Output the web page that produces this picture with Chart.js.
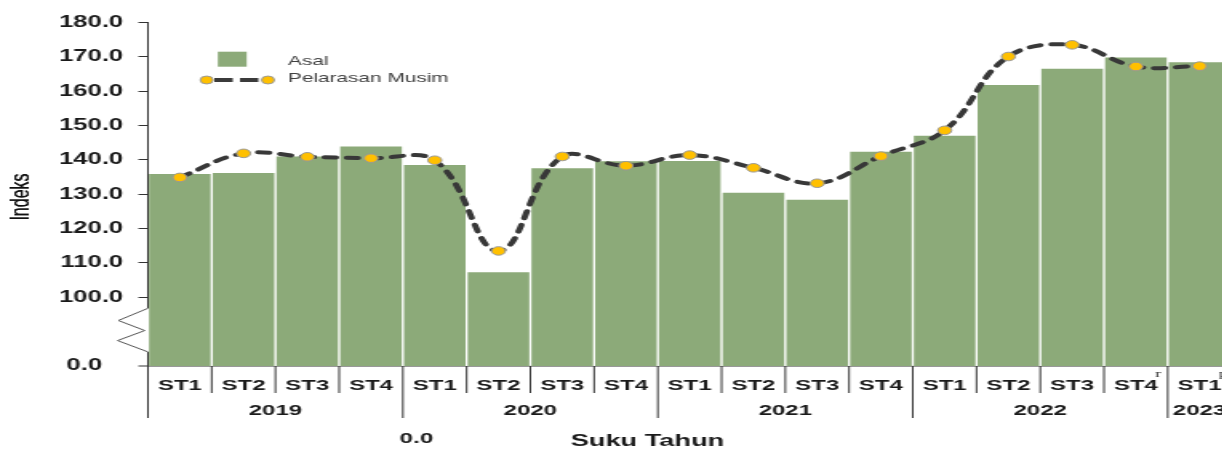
<!DOCTYPE html>
<html>
<head>
<meta charset="utf-8">
<script src="https://cdn.jsdelivr.net/npm/chart.js@4.4.0/dist/chart.umd.min.js"></script>
<style>
html,body{margin:0;padding:0;background:#fff;overflow:hidden;width:1222px;height:450px;}
#wrap{position:absolute;left:0;top:0;width:775px;height:450px;transform:scaleX(1.6);transform-origin:0 0;}
canvas{display:block;}
</style>
</head>
<body>
<div id="wrap"><canvas id="c" width="775" height="450"></canvas></div>
<script>
const quarters = ['ST1','ST2','ST3','ST4','ST1','ST2','ST3','ST4','ST1','ST2','ST3','ST4','ST1','ST2','ST3','ST4','ST1'];
const years = ['2019','2020','2021','2022','2023'];
const yearStarts = [0,4,8,12,16];
const asal = [136.1,136.4,141.2,144.1,138.7,107.5,137.8,139.8,139.9,130.6,128.6,142.6,147.2,162.0,166.7,170.0,168.6];
const pelarasanMusim = [134.9,141.9,140.9,140.5,139.9,113.5,141.0,138.3,141.4,137.7,133.2,141.1,148.6,170.1,173.5,167.2,167.3];
const yTicks = [80,90,100,110,120,130,140,150,160,170,180];
const superscripts = {15:'r',16:'p'};

const BAR = '#8CAA79';
const AX = '#333333';

const decor = {
  id:'decor',
  afterDraw(chart){
    const ctx = chart.ctx, ca = chart.chartArea;
    const xs = chart.scales.x, ys = chart.scales.y;
    const n = quarters.length;
    ctx.save();
    const yTop = ys.getPixelForValue(180), yBot = ys.getPixelForValue(80);
    const b1 = ys.getPixelForValue(96.8), b2 = ys.getPixelForValue(84.1);
    ctx.strokeStyle = AX; ctx.lineWidth = 1;
    ctx.beginPath();
    ctx.moveTo(ca.left, yTop); ctx.lineTo(ca.left, b1);
    ctx.moveTo(ca.left, b2); ctx.lineTo(ca.left, yBot);
    ctx.stroke();
    ctx.strokeStyle = '#555'; ctx.lineWidth = 1;
    const h = b2 - b1;
    ctx.beginPath();
    ctx.moveTo(ca.left, b1);
    ctx.lineTo(ca.left - 18.5, b1 + h*0.28);
    ctx.lineTo(ca.left - 2, b1 + h*0.51);
    ctx.lineTo(ca.left - 19, b1 + h*0.74);
    ctx.lineTo(ca.left, b2);
    ctx.stroke();
    ctx.strokeStyle = AX; ctx.lineWidth = 1;
    ctx.beginPath(); ctx.moveTo(ca.left - 6, yBot); ctx.lineTo(ca.left, yBot); ctx.stroke();
    ctx.fillStyle = '#1a1a1a';
    ctx.font = 'bold 16px "Liberation Sans", Arial, sans-serif';
    ctx.textAlign = 'right'; ctx.textBaseline = 'middle';
    ctx.fillText('0.0', 63.8, yBot);
    const bound = i => i === 0 ? ca.left : (i >= n ? ca.right : (xs.getPixelForValue(i-1) + xs.getPixelForValue(i))/2);
    ctx.strokeStyle = AX; ctx.lineWidth = 1;
    for (let i = 0; i <= n; i++) {
      const x = bound(i);
      const isYear = yearStarts.includes(i);
      ctx.beginPath();
      ctx.moveTo(x, ca.bottom);
      ctx.lineTo(x, isYear ? ca.bottom + 52 : ca.bottom + 27);
      ctx.stroke();
    }
    ctx.fillStyle = '#1a1a1a';
    ctx.font = 'bold 15px "Liberation Sans", Arial, sans-serif';
    ctx.textAlign = 'center'; ctx.textBaseline = 'middle';
    years.forEach((y, k) => {
      const s = yearStarts[k];
      const e = k + 1 < yearStarts.length ? yearStarts[k+1] - 1 : n - 1;
      const cx = (xs.getPixelForValue(s) + xs.getPixelForValue(e)) / 2;
      ctx.fillText(y, cx, ca.bottom + 45);
    });
    ctx.font = '11px "Liberation Serif", "Times New Roman", serif';
    ctx.textAlign = 'left';
    Object.keys(superscripts).forEach(i => {
      const cx = xs.getPixelForValue(+i);
      ctx.fillText(superscripts[i], cx + 12, ca.bottom + 8);
    });
    ctx.font = 'bold 15px "Liberation Sans", Arial, sans-serif';
    ctx.textAlign = 'center';
    ctx.fillText('0.0', 260.3, 439);
    ctx.font = 'bold 17px "Liberation Sans", Arial, sans-serif';
    ctx.fillText('Suku Tahun', 404.7, 441);
    ctx.save();
    ctx.translate(13.6, 197);
    ctx.rotate(-Math.PI/2);
    ctx.font = '500 16px "Liberation Sans", Arial, sans-serif';
    ctx.fillStyle = '#111';
    ctx.fillText('Indeks', 0, 0);
    ctx.fillText('Indeks', 0, 0.3);
    ctx.restore();
    ctx.fillStyle = BAR;
    ctx.fillRect(136.2, 51.7, 18, 15);
    ctx.strokeStyle = '#3b3b3b'; ctx.lineWidth = 4; ctx.lineCap = 'butt';
    ctx.beginPath();
    ctx.moveTo(134, 80); ctx.lineTo(145.5, 80);
    ctx.moveTo(150, 80); ctx.lineTo(161.5, 80);
    ctx.stroke();
    [129.2, 167.5].forEach(px => {
      ctx.beginPath();
      ctx.arc(px, 80, 4, 0, Math.PI*2);
      ctx.fillStyle = '#FFC000'; ctx.fill();
      ctx.lineWidth = 1; ctx.strokeStyle = '#999'; ctx.stroke();
    });
    ctx.fillStyle = '#404040';
    ctx.font = '13px "Liberation Sans", Arial, sans-serif';
    ctx.textAlign = 'left'; ctx.textBaseline = 'middle';
    ctx.fillText('Asal', 180, 61);
    ctx.fillText('Pelarasan Musim', 180, 78.5);
    ctx.restore();
  }
};

new Chart(document.getElementById('c'), {
  data: {
    labels: quarters,
    datasets: [
      {
        type: 'bar', label: 'Asal', data: asal, order: 2,
        backgroundColor: BAR, borderColor: '#ffffff',
        borderWidth: {top: 1, left: 1, right: 1, bottom: 0},
        borderSkipped: false,
        barPercentage: 1, categoryPercentage: 1
      },
      {
        type: 'line', label: 'Pelarasan Musim', data: pelarasanMusim, order: 1,
        borderColor: '#383838', borderWidth: 4, borderDash: [7, 7], borderCapStyle: 'round',
        tension: 0.4, fill: false,
        pointRadius: 4.3, pointBackgroundColor: '#FFC000', pointBorderColor: '#999', pointBorderWidth: 1
      }
    ]
  },
  options: {
    responsive: false,
    animation: false,
    layout: {padding: {top: 22.5, right: 0, left: 0, bottom: 0}},
    plugins: {legend: {display: false}, tooltip: {enabled: false}},
    scales: {
      x: {
        type: 'category', offset: true,
        grid: {display: false},
        border: {display: true, color: AX, width: 1.6},
        ticks: {
          color: '#1a1a1a', padding: 3, maxRotation: 0, autoSkip: false,
          font: {family: '"Liberation Sans", Arial, sans-serif', size: 15, weight: 'bold'}
        },
        afterFit(s){ s.height = 84; }
      },
      y: {
        min: 80, max: 180,
        afterBuildTicks(s){ s.ticks = yTicks.map(v => ({value: v})); },
        border: {display: false},
        grid: {
          drawOnChartArea: false, drawTicks: true, tickLength: 6,
          tickColor: c => (c.tick && c.tick.value >= 100) ? AX : 'rgba(0,0,0,0)', tickWidth: 1
        },
        ticks: {
          color: '#1a1a1a', padding: 9.5,
          font: {family: '"Liberation Sans", Arial, sans-serif', size: 16, weight: 'bold'},
          callback: v => v >= 100 ? Number(v).toFixed(1) : ''
        },
        afterFit(s){ s.width = 92.5; }
      }
    }
  },
  plugins: [decor]
});
</script>
</body>
</html>
